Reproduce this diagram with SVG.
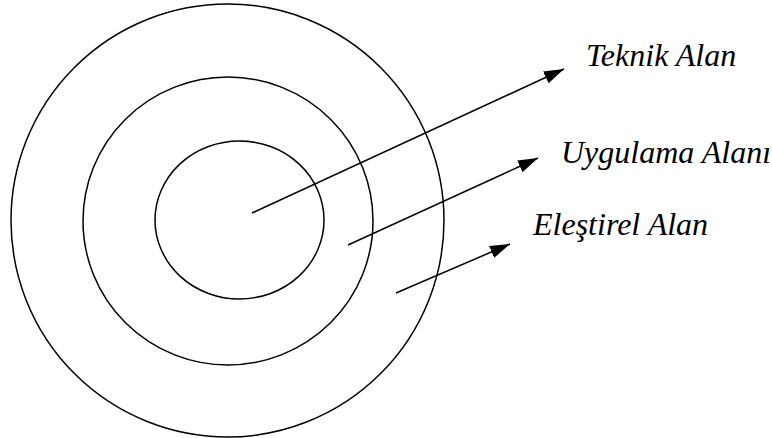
<svg xmlns="http://www.w3.org/2000/svg" width="772" height="438" viewBox="0 0 772 438">
<style>
.ring{fill:none;stroke:#000;stroke-width:1.5}
.conn{fill:none;stroke:#000;stroke-width:1.5}
.lbl{font-family:"Liberation Serif","Times New Roman",serif;font-style:italic;font-size:32px;fill:#000}
</style>
<defs>
<marker id="arr" markerUnits="userSpaceOnUse" markerWidth="20" markerHeight="13" refX="20" refY="6.5" orient="auto">
<path d="M0,0 L20,6.5 L0,13 z" fill="#000"/>
</marker>
</defs>
<rect width="772" height="438" fill="#fff"/>
<g id="outer-ring"><ellipse class="ring" cx="227.5" cy="220.5" rx="216.5" ry="216.5"/></g>
<g id="middle-ring"><ellipse class="ring" cx="228" cy="221" rx="145" ry="144"/></g>
<g id="inner-ring"><ellipse class="ring" cx="239.5" cy="220" rx="84.5" ry="79"/></g>
<g id="connectors">
<line class="conn" x1="252" y1="213" x2="564" y2="69" marker-end="url(#arr)"/>
<line class="conn" x1="348" y1="245" x2="538" y2="158" marker-end="url(#arr)"/>
<line class="conn" x1="396" y1="293" x2="510" y2="244" marker-end="url(#arr)"/>
</g>
<g id="label-teknik"><text class="lbl" x="586" y="66">Teknik Alan</text></g>
<g id="label-uygulama"><text class="lbl" x="561" y="163">Uygulama Alanı</text></g>
<g id="label-elestirel"><text class="lbl" x="533" y="235">Eleştirel Alan</text></g>
</svg>
